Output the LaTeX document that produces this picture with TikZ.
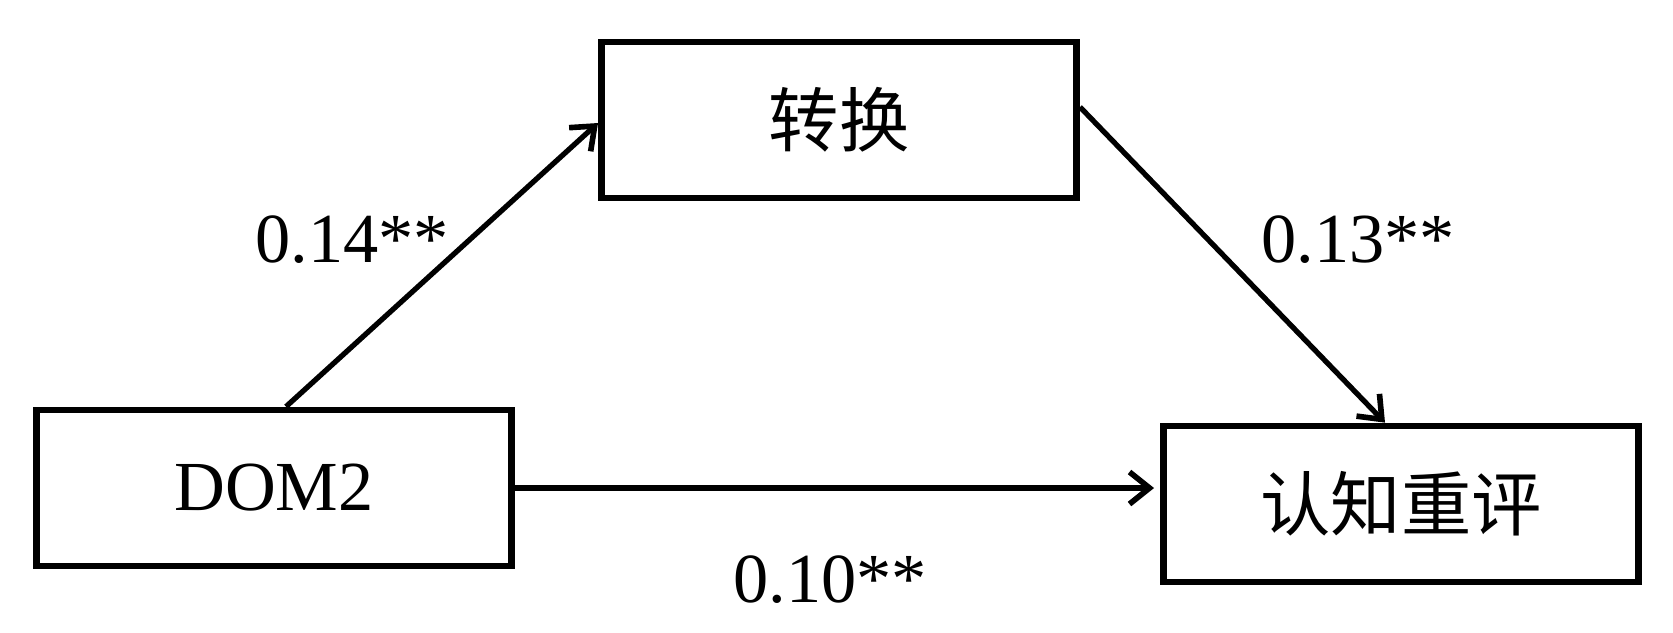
\documentclass[tikz,border=0pt]{standalone}
\usepackage{fontspec}
\setmainfont{Liberation Serif}
\newfontfamily\cjk{Noto Sans CJK SC}
\usetikzlibrary{positioning, arrows.meta}

\tikzset{
  varbox/.style={draw, line width=1.9pt, minimum width=4.75cm, minimum height=1.56cm,
    font=\fontsize{20}{24}\selectfont},
  coef/.style={inner sep=0pt, font=\fontsize{20}{24}\selectfont},
  effect/.style={-{Straight Barb[length=2mm,width=3.2mm,line width=1.6pt]}, line width=1.5pt}
}

\begin{document}
\begin{tikzpicture}[x=0.01cm, y=-0.01cm]
    \useasboundingbox (0,0) rectangle (1673,632);

    % Variables
    \node[varbox] (dom) at (274,488) {DOM2};
    \node[varbox] (trans) at (839,120) {\cjk 转换};
    \node[varbox] (reap) at (1401,504) {\cjk 认知重评};

    % Paths
    \draw[effect] ([xshift=0.12cm]dom.north) -- ([yshift=-0.03cm]trans.west);
    \draw[effect] ([yshift=0.13cm]trans.east) -- ([xshift=-0.16cm]reap.north);
    \draw[effect, shorten >=0.06cm] (dom.east) -- (dom.east -| reap.west);

    % Coefficients
    \node[coef] (ca) at (352,240) {0.14**};
    \node[coef] (cb) at (1358,240) {0.13**};
    \node[coef] (cc) at (830,580) {0.10**};
  \end{tikzpicture}
\end{document}
